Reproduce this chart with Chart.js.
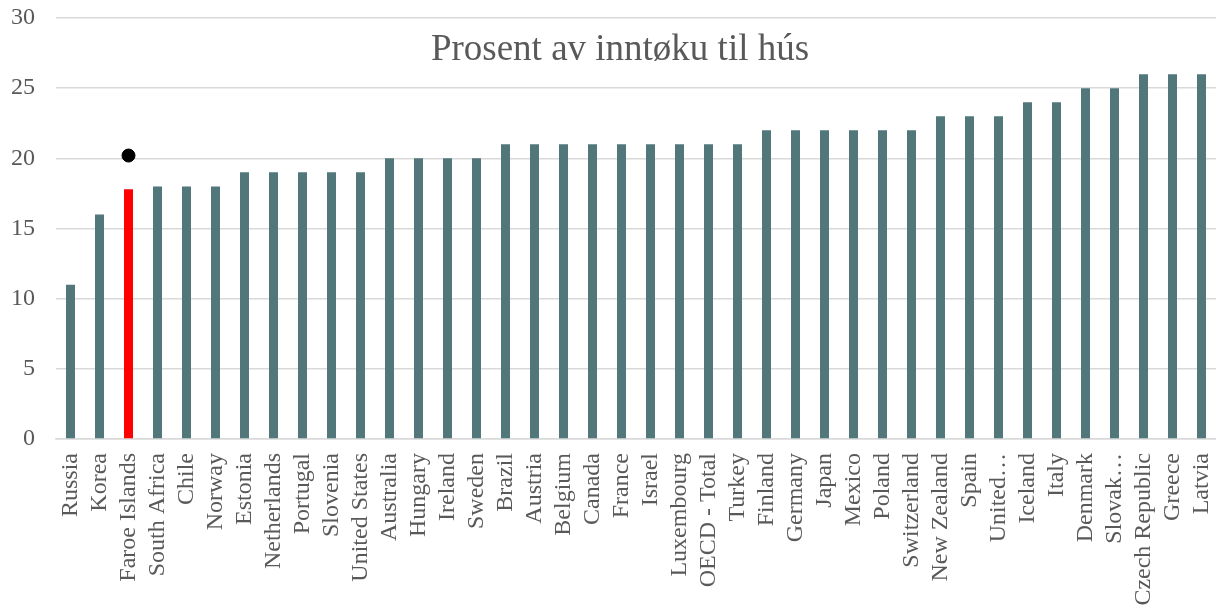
<html>
<head>
<meta charset="utf-8">
<title>Prosent av inntøku til hús</title>
<script src="https://cdn.jsdelivr.net/npm/chart.js"></script>
<style>
  html, body { margin: 0; padding: 0; background: #fff; }
  #wrap { width: 1216px; height: 609px; }
</style>
</head>
<body>
<div id="wrap"><canvas id="myChart"></canvas></div>
<script>
// data
var countries = ["Russia", "Korea", "Faroe Islands", "South Africa", "Chile", "Norway", "Estonia",
  "Netherlands", "Portugal", "Slovenia", "United States", "Australia", "Hungary", "Ireland", "Sweden",
  "Brazil", "Austria", "Belgium", "Canada", "France", "Israel", "Luxembourg", "OECD - Total", "Turkey",
  "Finland", "Germany", "Japan", "Mexico", "Poland", "Switzerland", "New Zealand", "Spain", "United…",
  "Iceland", "Italy", "Denmark", "Slovak…", "Czech Republic", "Greece", "Latvia"];
var shares = [11, 16, 17.8, 18, 18, 18, 19, 19, 19, 19, 19, 20, 20, 20, 20, 21, 21, 21, 21, 21, 21, 21, 21, 21,
  22, 22, 22, 22, 22, 22, 23, 23, 23, 24, 24, 25, 25, 26, 26, 26];
var faroeMarker = [null, null, 20.2, null, null, null, null, null, null, null, null, null, null, null, null,
  null, null, null, null, null, null, null, null, null, null, null, null, null, null, null, null, null, null,
  null, null, null, null, null, null, null];
var yTicks = [0, 5, 10, 15, 20, 25, 30];
var chartTitle = "Prosent av inntøku til hús";

var barColors = countries.map(function(c) {
  return c == "Faroe Islands" ? "#FF0000" : "#52777A";
});

// title sits inside the plot area, so draw it by hand
var titlePlugin = {
  id: 'innerTitle',
  afterDraw: function(chart) {
    var ctx = chart.ctx;
    ctx.save();
    ctx.font = '37px "Liberation Serif"';
    ctx.fillStyle = '#595959';
    ctx.textAlign = 'center';
    ctx.textBaseline = 'middle';
    ctx.fillText(chartTitle, 620, 50);
    ctx.restore();
  }
};

var ctx = document.getElementById('myChart').getContext('2d');
var myChart = new Chart(ctx, {
  type: 'bar',
  data: {
    labels: countries,
    datasets: [
      {
        type: 'line',
        data: faroeMarker,
        showLine: false,
        pointRadius: 6.5,
        pointBackgroundColor: '#000',
        pointBorderColor: '#000',
        order: 0
      },
      {
        data: shares,
        backgroundColor: barColors,
        barPercentage: 0.31,
        categoryPercentage: 1,
        order: 1
      }
    ]
  },
  plugins: [titlePlugin],
  options: {
    responsive: true,
    maintainAspectRatio: false,
    animation: false,
    layout: { autoPadding: false, padding: { top: 18, right: 0, bottom: 0, left: 0 } },
    plugins: {
      legend: { display: false },
      title: { display: false },
      tooltip: { enabled: false }
    },
    scales: {
      x: {
        afterFit: function(scale) {
          scale.height = 170;
          scale.paddingLeft = 0;
          scale.paddingRight = 0;
        },
        grid: { display: false, drawTicks: false },
        border: { color: '#d9d9d9', width: 1.5 },
        ticks: {
          autoSkip: false,
          maxRotation: 90,
          minRotation: 90,
          padding: 14,
          color: '#595959',
          font: { family: 'Liberation Serif', size: 24 }
        }
      },
      y: {
        min: 0,
        max: 30,
        afterBuildTicks: function(scale) {
          scale.ticks = yTicks.map(function(v) { return { value: v }; });
        },
        afterFit: function(scale) {
          scale.width = 56;
          scale.paddingTop = 0;
          scale.paddingBottom = 0;
        },
        grid: { color: '#d9d9d9', lineWidth: 1.5, drawTicks: false },
        border: { display: false },
        ticks: {
          padding: 21,
          color: '#595959',
          font: { family: 'Liberation Serif', size: 24 }
        }
      }
    }
  }
});
</script>
</body>
</html>
